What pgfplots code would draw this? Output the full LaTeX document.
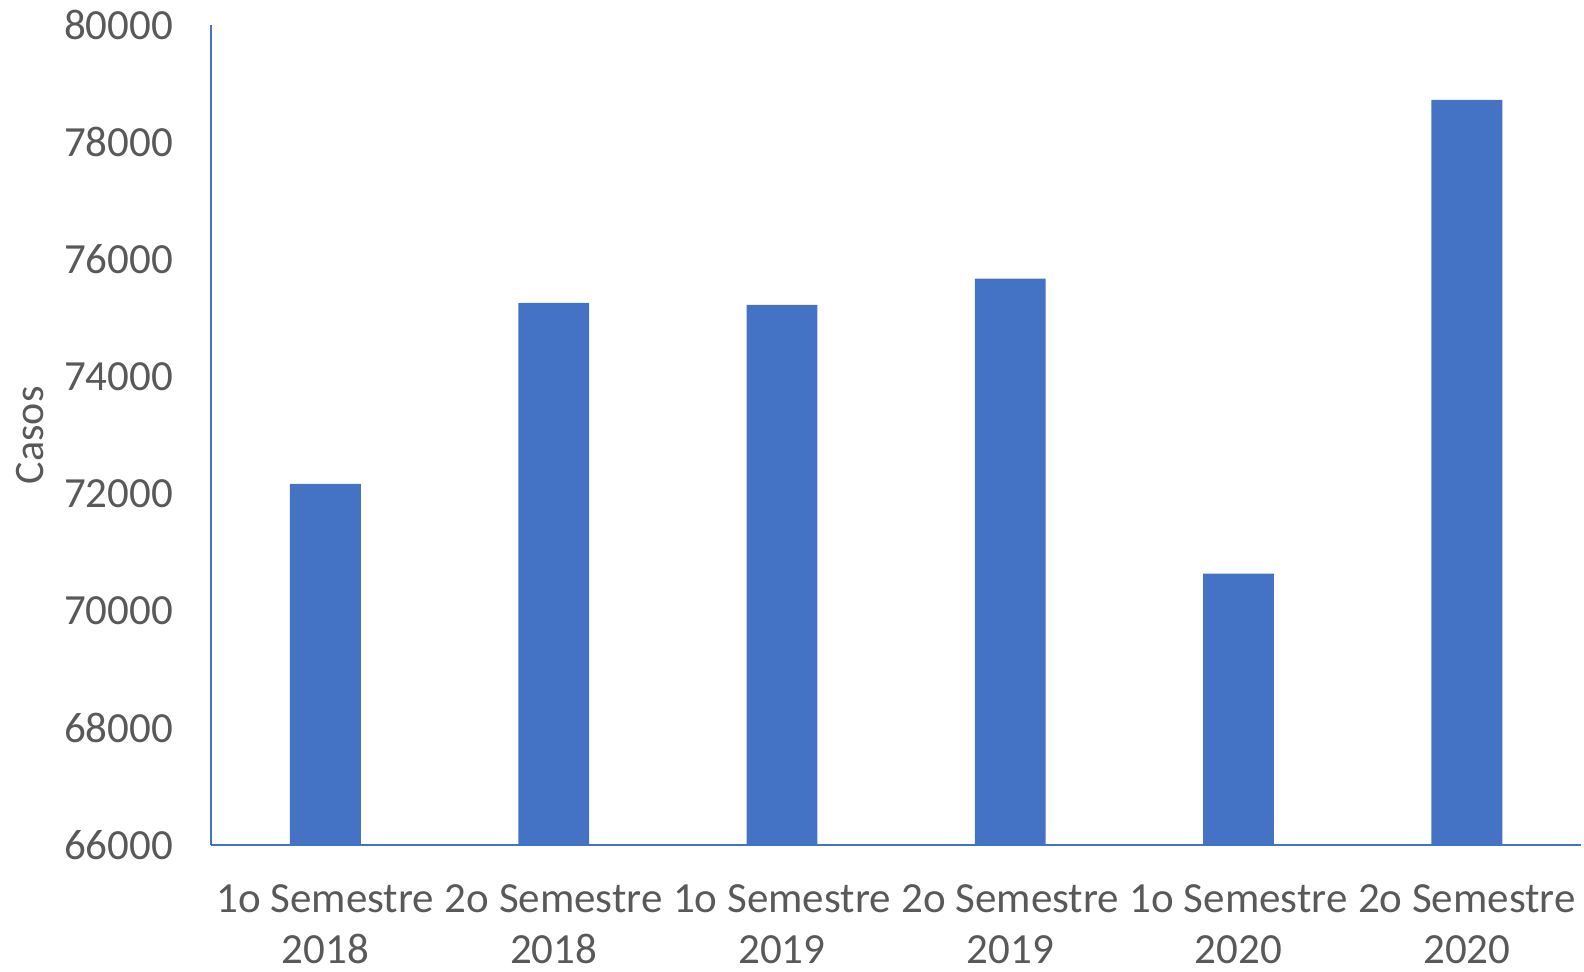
\documentclass[border=0pt]{standalone}
\usepackage{fontspec}
\setmainfont{Carlito}
\usepackage{pgfplots}
\pgfplotsset{compat=1.18}
\definecolor{barblue}{HTML}{4472C4}
\definecolor{txtgray}{HTML}{595959}
\begin{document}
\begin{tikzpicture}
\path[use as bounding box] (-105.6pt,-63.1pt) rectangle (686.3pt,422.6pt);
\begin{axis}[
  at={(0,0)}, anchor=south west,
  scale only axis, width=684.8pt, height=410pt,
  xmin=-0.5, xmax=5.5, ymin=66000, ymax=80000,
  ytick distance=2000,
  scaled y ticks=false,
  xtick={0,1,2,3,4,5},
  xticklabels={{1o Semestre\\2018},{2o Semestre\\2018},{1o Semestre\\2019},{2o Semestre\\2019},{1o Semestre\\2020},{2o Semestre\\2020}},
  major tick length=0pt,
  axis x line*=bottom, axis y line*=left,
  axis line style={barblue, line width=0.9pt, -},
  /pgf/number format/assume math mode=true,
  yticklabel={\pgfmathprintnumber[fixed,1000 sep={}]{\tick}},
  tick label style={font=\fontsize{21.5}{25.5}\selectfont, text=txtgray},
  yticklabel style={xshift=-15.5pt},
  xticklabel style={align=center, yshift=-16pt},
  ylabel={Casos},
  ylabel style={font=\fontsize{21}{24}\selectfont, text=txtgray, at={(axis description cs:-0.132,0.5)}, anchor=center},
  ybar, bar width=35.4pt,
]
\addplot[fill=barblue, draw=none] coordinates {
(0,72172) (1,75259) (2,75224) (3,75672) (4,70638) (5,78724)};
\end{axis}
\end{tikzpicture}
\end{document}
